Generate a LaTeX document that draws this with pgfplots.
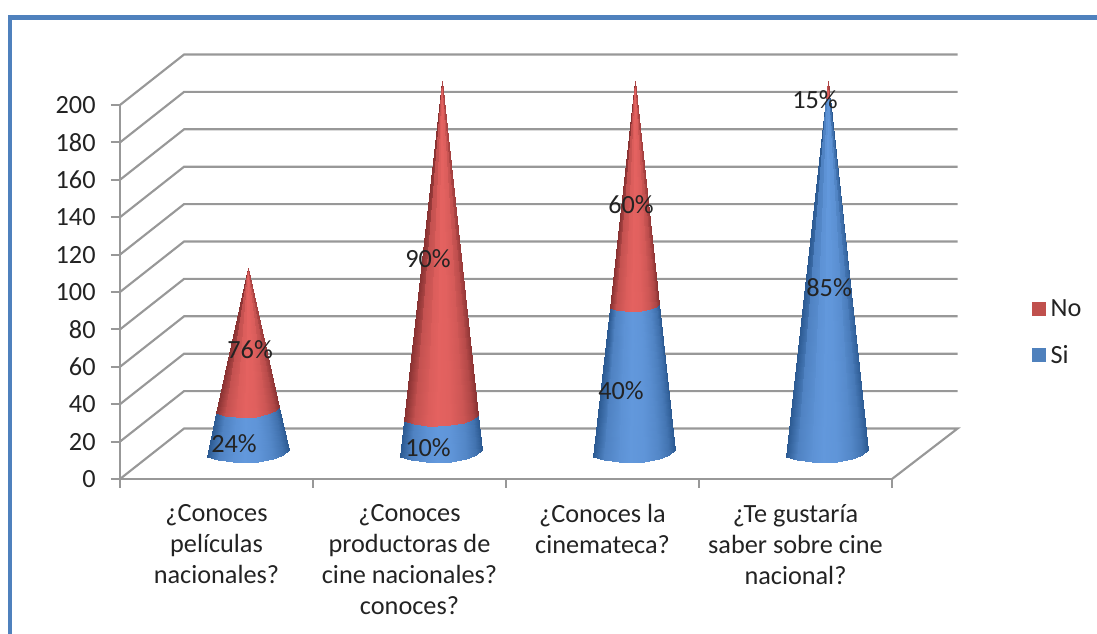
\documentclass[border=0pt]{standalone}
\usepackage{fontspec}
\setmainfont{Carlito}
\usepackage{pgfplots}
\pgfplotsset{compat=1.18}

\definecolor{gridgray}{RGB}{152,152,152}
\definecolor{framebl}{RGB}{79,129,189}
\definecolor{legblue}{RGB}{79,129,189}
\definecolor{legred}{RGB}{192,80,77}
\definecolor{txt}{RGB}{35,35,35}

\newcommand{\lblfont}{\fontsize{19.7}{23.25}\selectfont}

\pgfplotsset{
  cone/.style={surf, shader=interp, forget plot, point meta=explicit, mesh/rows=2, mesh/cols=8},
  wall/.style={gridgray, line width=1.6pt, forget plot},
}

\begin{document}
\begin{tikzpicture}
\useasboundingbox (0pt,0pt) rectangle (822.75pt,475.5pt);
% frame of the slide, top and left only
\fill[framebl] (6pt,0pt) rectangle (9pt,464.25pt);
\fill[framebl] (6pt,460.5pt) rectangle (822.75pt,464.25pt);
\begin{axis}[
    at={(90pt,116.25pt)},
    anchor=south west,
    scale only axis,
    width=579pt,
    height=280.5pt,
    clip=false,
    xmin=-0.5, xmax=3.5,
    ymin=0, ymax=200,
    axis lines=left,
    axis line style={-, gridgray, line width=1.6pt},
    xtick={0,1,2,3},
    xticklabels={{¿Conoces\\películas\\nacionales?},
                 {¿Conoces\\productoras de\\cine nacionales?\\conoces?},
                 {¿Conoces la\\cinemateca?},
                 {¿Te gustaría\\saber sobre cine\\nacional?}},
    xtick style={draw=none},
    ytick={0,20,...,200},
    ytick style={gridgray, line width=1.6pt},
    tick align=outside,
    major tick length=6.75pt,
    /pgf/number format/assume math mode=true,
    tick label style={font=\lblfont, text=txt},
    xticklabel style={align=center, anchor=north, yshift=-9pt},
    yticklabel style={xshift=-8pt},
    colormap={conecolor}{rgb255(0cm)=(44,90,146) rgb255(1cm)=(98,152,220)
                         rgb255(2cm)=(136,50,50) rgb255(3cm)=(228,98,96)},
    point meta min=0, point meta max=3,
    legend image code/.code={\path[fill=none, draw=none] (0pt,0pt) -- (12pt,0pt);
                             \path[#1, draw=none] (0pt,-5.25pt) rectangle (10.5pt,5.25pt);},
    legend style={draw=none, fill=none, at={(1.181,0.392)}, anchor=west,
                  font=\lblfont, text=txt, row sep=16.25pt, inner sep=0pt},
    legend cell align=left,
]
% side wall, floor and back wall lines
\addplot[wall] coordinates {(-0.5,0) (-0.168,27) (3.84,27) (3.5,0)};
\addplot[wall] coordinates {(-0.5,20) (-0.168,47) (3.84,47)};
\addplot[wall] coordinates {(-0.5,40) (-0.168,67) (3.84,67)};
\addplot[wall] coordinates {(-0.5,60) (-0.168,87) (3.84,87)};
\addplot[wall] coordinates {(-0.5,80) (-0.168,107) (3.84,107)};
\addplot[wall] coordinates {(-0.5,100) (-0.168,127) (3.84,127)};
\addplot[wall] coordinates {(-0.5,120) (-0.168,147) (3.84,147)};
\addplot[wall] coordinates {(-0.5,140) (-0.168,167) (3.84,167)};
\addplot[wall] coordinates {(-0.5,160) (-0.168,187) (3.84,187)};
\addplot[wall] coordinates {(-0.5,180) (-0.168,207) (3.84,207)};
\addplot[wall] coordinates {(-0.5,200) (-0.168,227) (3.84,227)};
% category separators
\addplot[wall] coordinates {(-0.5,0) (-0.5,-4.8)};
\addplot[wall] coordinates {(0.5,0) (0.5,-4.8)};
\addplot[wall] coordinates {(1.5,0) (1.5,-4.8)};
\addplot[wall] coordinates {(2.5,0) (2.5,-4.8)};
\addplot[wall] coordinates {(3.5,0) (3.5,-4.8)};

% Si, first cone
\addplot[cone] table[meta=c] {
x y c
-0.049 11.77 0
0.008 9.90 0.65
0.085 8.83 0.9
0.142 8.57 1
0.215 9.10 0.95
0.293 10.70 0.72
0.345 12.83 0.4
0.376 15.50 0
0.000 35.38 0
0.044 33.95 0.65
0.103 33.13 0.9
0.147 32.93 1
0.203 33.34 0.95
0.263 34.56 0.72
0.303 36.20 0.4
0.326 38.25 0
};
% No, first cone
\addplot[cone] table[meta=c] {
x y c
0.000 35.38 2
0.044 33.95 2.65
0.103 33.13 2.9
0.147 32.93 3
0.203 33.34 2.95
0.263 34.56 2.72
0.303 36.20 2.4
0.326 38.25 2
0.163 112.8 2
0.163 112.8 2.65
0.163 112.8 2.9
0.163 112.8 3
0.163 112.8 2.95
0.163 112.8 2.72
0.163 112.8 2.4
0.163 112.8 2
};
% Si, second cone
\addplot[cone] table[meta=c] {
x y c
0.951 11.77 0
1.008 9.90 0.65
1.085 8.83 0.9
1.142 8.57 1
1.215 9.10 0.95
1.293 10.70 0.72
1.345 12.83 0.4
1.376 15.50 0
0.972 31.07 0
1.023 29.38 0.65
1.093 28.41 0.9
1.144 28.17 1
1.210 28.65 0.95
1.281 30.10 0.72
1.328 32.02 0.4
1.356 34.44 0
};
% No, second cone
\addplot[cone] table[meta=c] {
x y c
0.972 31.07 2
1.023 29.38 2.65
1.093 28.41 2.9
1.144 28.17 3
1.210 28.65 2.95
1.281 30.10 2.72
1.328 32.02 2.4
1.356 34.44 2
1.167 212.9 2
1.167 212.9 2.65
1.167 212.9 2.9
1.167 212.9 3
1.167 212.9 2.95
1.167 212.9 2.72
1.167 212.9 2.4
1.167 212.9 2
};
% Si, third cone
\addplot[cone] table[meta=c] {
x y c
1.951 11.77 0
2.008 9.90 0.65
2.085 8.83 0.9
2.142 8.57 1
2.215 9.10 0.95
2.293 10.70 0.72
2.345 12.83 0.4
2.376 15.50 0
2.037 91.57 0
2.072 90.45 0.65
2.118 89.80 0.9
2.153 89.64 1
2.197 89.96 0.95
2.244 90.93 0.72
2.275 92.21 0.4
2.294 93.82 0
};
% No, third cone
\addplot[cone] table[meta=c] {
x y c
2.037 91.57 2
2.072 90.45 2.65
2.118 89.80 2.9
2.153 89.64 3
2.197 89.96 2.95
2.244 90.93 2.72
2.275 92.21 2.4
2.294 93.82 2
2.168 212.9 2
2.168 212.9 2.65
2.168 212.9 2.9
2.168 212.9 3
2.168 212.9 2.95
2.168 212.9 2.72
2.168 212.9 2.4
2.168 212.9 2
};
% Si, fourth cone
\addplot[cone] table[meta=c] {
x y c
2.951 11.77 0
3.008 9.90 0.65
3.085 8.83 0.9
3.142 8.57 1
3.215 9.10 0.95
3.293 10.70 0.72
3.345 12.83 0.4
3.376 15.50 0
3.158 203.75 0
3.160 203.67 0.65
3.164 203.62 0.9
3.166 203.61 1
3.170 203.63 0.95
3.173 203.70 0.72
3.176 203.80 0.4
3.177 203.92 0
};
% No, fourth cone
\addplot[cone] table[meta=c] {
x y c
3.158 203.75 2
3.160 203.67 2.65
3.164 203.62 2.9
3.166 203.61 3
3.170 203.63 2.95
3.173 203.70 2.72
3.176 203.80 2.4
3.177 203.92 2
3.168 212.9 2
3.168 212.9 2.65
3.168 212.9 2.9
3.168 212.9 3
3.168 212.9 2.95
3.168 212.9 2.72
3.168 212.9 2.4
3.168 212.9 2
};

\addlegendimage{fill=legred}
\addlegendentry{No}
\addlegendimage{fill=legblue}
\addlegendentry{Si}

% data labels
\node[font=\lblfont, text=txt] at (axis cs:0.091,19.1) {24\%};
\node[font=\lblfont, text=txt] at (axis cs:1.096,17) {10\%};
\node[font=\lblfont, text=txt] at (axis cs:2.096,47) {40\%};
\node[font=\lblfont, text=txt] at (axis cs:3.174,102.1) {85\%};
\node[font=\lblfont, text=txt] at (axis cs:0.174,68.9) {76\%};
\node[font=\lblfont, text=txt] at (axis cs:1.096,117.6) {90\%};
\node[font=\lblfont, text=txt] at (axis cs:2.148,146.5) {60\%};
\node[font=\lblfont, text=txt] at (axis cs:3.101,202.7) {15\%};
\end{axis}
\end{tikzpicture}
\end{document}
